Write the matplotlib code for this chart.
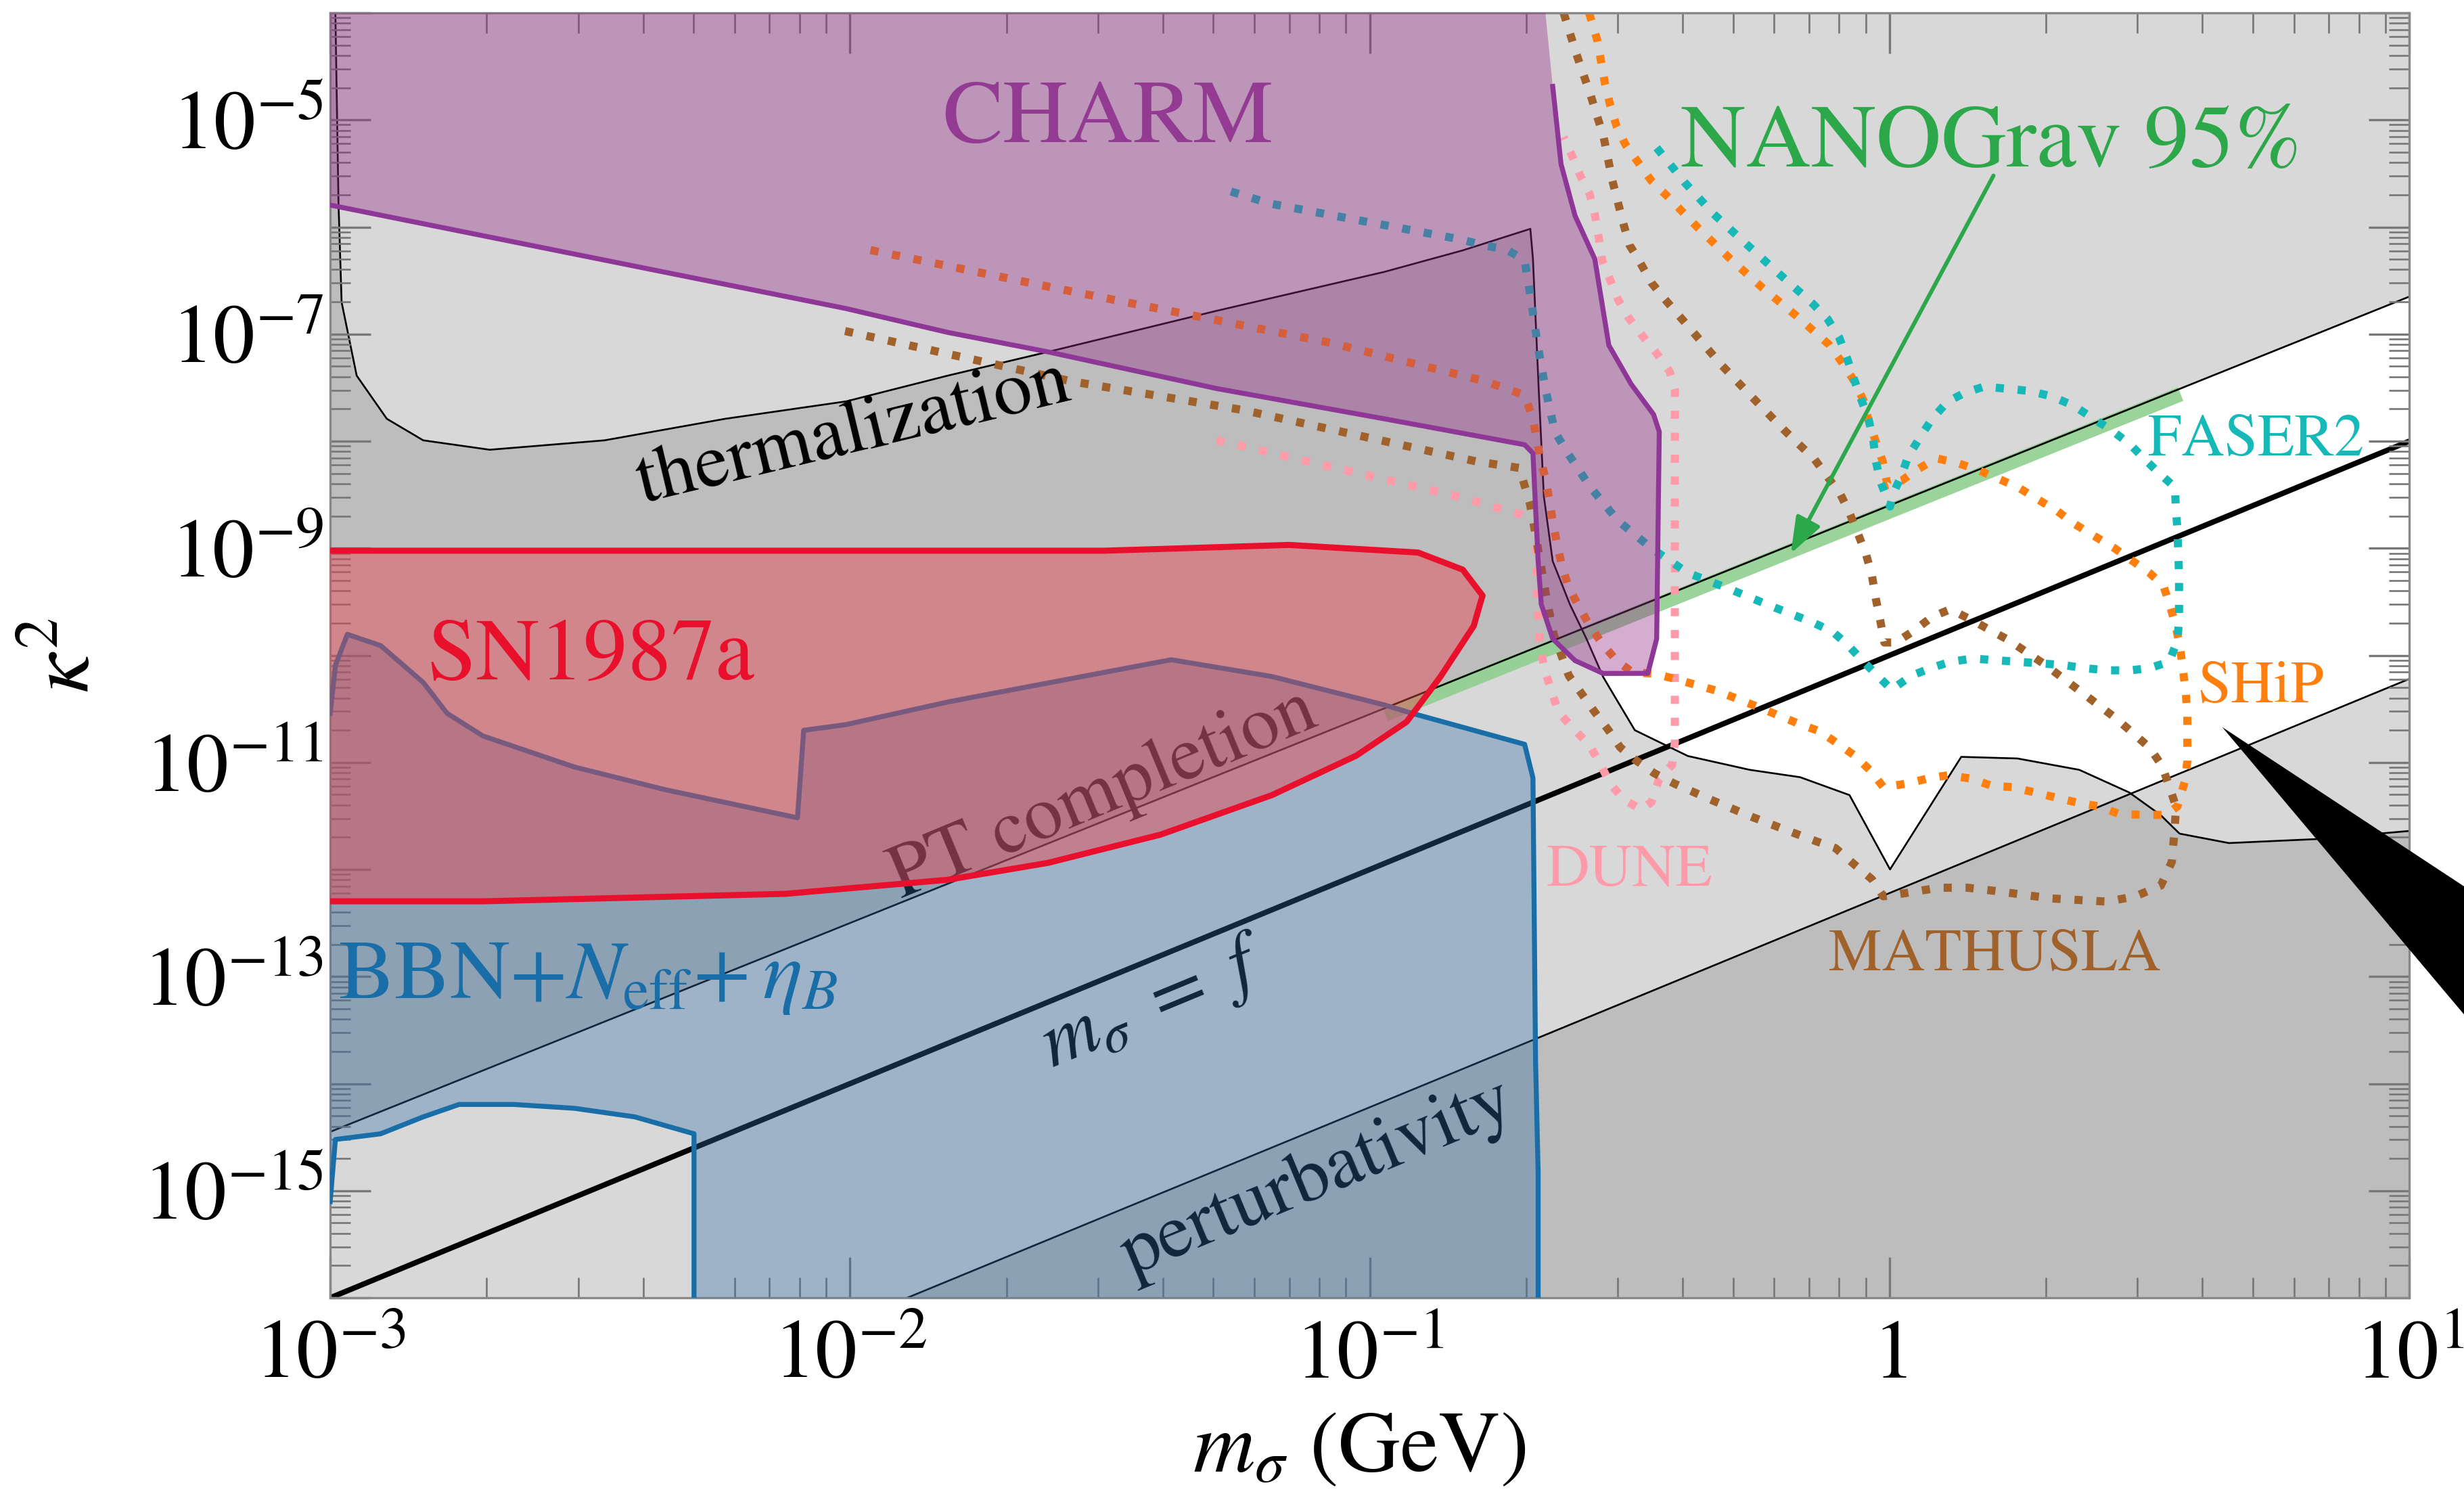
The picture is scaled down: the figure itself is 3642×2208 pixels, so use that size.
import numpy as np
import matplotlib
matplotlib.use('Agg')
import matplotlib.pyplot as plt
from matplotlib.ticker import FixedLocator, FixedFormatter, LogLocator, NullFormatter

plt.rcParams['font.family'] = 'STIXGeneral'
plt.rcParams['mathtext.fontset'] = 'stix'

# ---------------- data: log10(m_sigma / GeV), log10(kappa^2) ----------------
# straight boundaries
pt_lx, pt_ly = [-3.0, 1.0], [-14.45, -6.65]          # PT completion
mf_lx, mf_ly = [-3.0, 1.0], [-16.0, -8.0]            # m_sigma = f
pert_lx, pert_ly = [-3.0, 1.0], [-18.22, -10.22]     # perturbativity
nano_lx, nano_ly = [-0.97, 0.56], [-10.55, -7.56]    # NANOGrav 95% segment

# thermalization boundary
therm_lx = [-2.990, -2.984, -2.978, -2.949, -2.891, -2.821, -2.693, -2.472, -2.240, -2.007,
            -1.812, -1.619, -1.295, -0.972, -0.821, -0.691, -0.686, -0.675, -0.665, -0.648,
            -0.615, -0.583, -0.551, -0.532, -0.490, -0.388, -0.269, -0.172, -0.077, 0.001,
            0.138, 0.246, 0.365, 0.461, 0.521, 0.558, 0.653, 0.821, 1.0]
therm_ly = [-4.0, -5.773, -6.702, -7.388, -7.791, -7.992, -8.080, -7.992, -7.791, -7.628,
            -7.388, -7.166, -6.783, -6.419, -6.218, -6.017, -6.299, -7.505, -8.516, -9.120,
            -9.523, -9.846, -10.201, -10.357, -10.699, -10.940, -11.069, -11.138, -11.305, -11.999,
            -10.948, -10.963, -11.069, -11.280, -11.489, -11.665, -11.753, -11.716, -11.64]

# CHARM
charm_lx = [-3.0, -3.0, -2.007, -1.812, -1.619, -1.295, -0.972, -0.702, -0.686, -0.676,
            -0.670, -0.648, -0.605, -0.551, -0.465, -0.448, -0.443, -0.454, -0.497, -0.540,
            -0.567, -0.605, -0.632, -0.648, -0.662]
charm_ly = [-4.0, -5.795, -6.762, -6.984, -7.166, -7.508, -7.791, -8.033, -8.113, -9.120,
            -9.523, -9.846, -10.049, -10.169, -10.168, -9.846, -7.912, -7.750, -7.468, -7.104,
            -6.299, -5.895, -5.412, -4.687, -4.0]

# SN1987a
sn_lx = [-3.0, -1.943, -1.511, -1.155, -0.907, -0.821, -0.783, -0.800, -0.864, -0.929,
         -1.026, -1.188, -1.403, -1.619, -1.812, -2.124, -2.705, -3.0]
sn_ly = [-9.023, -9.023, -9.023, -8.969, -9.040, -9.200, -9.442, -9.726, -10.200, -10.621,
         -10.937, -11.305, -11.675, -11.938, -12.096, -12.227, -12.297, -12.297]

# BBN + N_eff + eta_B (upper edge, then the allowed pocket at low mass)
bbn_top_lx = [-3.0, -2.990, -2.967, -2.903, -2.821, -2.775, -2.706, -2.530, -2.356, -2.101,
              -2.089, -2.008, -1.812, -1.727, -1.382, -1.188, -0.972, -0.918, -0.702, -0.686,
              -0.681, -0.676, -0.676]
bbn_top_ly = [-10.542, -10.094, -9.804, -9.909, -10.253, -10.542, -10.753, -11.043, -11.254, -11.517,
              -10.700, -10.647, -10.436, -10.357, -10.041, -10.198, -10.463, -10.542, -10.831, -11.145,
              -13.783, -14.837, -16.0]
bbn_pocket_lx = [-2.30, -2.30, -2.414, -2.530, -2.647, -2.752, -2.821, -2.903, -2.990, -3.0]
bbn_pocket_ly = [-16.0, -14.468, -14.31, -14.23, -14.194, -14.194, -14.31, -14.468, -14.521, -15.101]

# projected sensitivities
dune_lx = [-1.295, -0.836, -0.712, -0.682, -0.679, -0.677, -0.672, -0.662, -0.637, -0.607,
           -0.577, -0.557, -0.537, -0.513, -0.478, -0.458, -0.443, -0.418, -0.413, -0.413,
           -0.423, -0.448, -0.478, -0.503, -0.523, -0.537, -0.553, -0.560, -0.567, -0.577,
           -0.595, -0.612, -0.627]
dune_ly = [-7.99, -8.51, -8.68, -8.81, -9.12, -9.54, -9.93, -10.16, -10.53, -10.69,
           -10.84, -11.01, -11.20, -11.34, -11.44, -11.37, -11.15, -11.02, -10.81, -7.52,
           -7.35, -7.18, -7.00, -6.84, -6.67, -6.50, -6.31, -6.08, -5.88, -5.69,
           -5.52, -5.32, -5.16]

mathusla_lx = [-0.627, -0.602, -0.575, -0.550, -0.533, -0.512, -0.500, -0.480, -0.458, -0.433,
               -0.378, -0.323, -0.264, -0.204, -0.144, -0.094, -0.077, -0.061, -0.045, -0.034,
               -0.026, -0.018, -0.010, 0.012, 0.047, 0.082, 0.117, 0.158, 0.230, 0.300,
               0.371, 0.436, 0.500, 0.524, 0.538, 0.551, 0.549, 0.543, 0.522, 0.473,
               0.419, 0.311, 0.203, 0.150, 0.095, 0.031, -0.012, -0.034, -0.066, -0.104,
               -0.139, -0.189, -0.264, -0.338, -0.413, -0.453, -0.488, -0.518, -0.542, -0.567,
               -0.592, -0.617, -0.647, -0.663, -0.684, -0.692, -0.712, -0.794, -1.243, -1.575,
               -2.011]
mathusla_ly = [-4.0, -4.39, -4.77, -5.16, -5.57, -5.97, -6.17, -6.33, -6.52, -6.67,
               -6.98, -7.29, -7.59, -7.89, -8.17, -8.50, -8.67, -8.86, -9.06, -9.25,
               -9.48, -9.67, -9.88, -9.88, -9.77, -9.64, -9.57, -9.67, -9.86, -10.09,
               -10.35, -10.59, -10.86, -11.03, -11.22, -11.41, -11.60, -11.93, -12.15, -12.25,
               -12.30, -12.27, -12.20, -12.17, -12.17, -12.22, -12.25, -12.09, -11.96, -11.80,
               -11.74, -11.65, -11.51, -11.36, -11.20, -11.10, -10.98, -10.86, -10.69, -10.53,
               -10.36, -10.19, -9.79, -9.38, -8.79, -8.58, -8.25, -8.19, -7.71, -7.44,
               -6.97]

ship_lx = [-0.578, -0.562, -0.547, -0.537, -0.525, -0.508, -0.483, -0.458, -0.428, -0.368,
           -0.308, -0.244, -0.179, -0.116, -0.092, -0.069, -0.050, -0.040, -0.026, -0.013,
           -0.004, 0.023, 0.052, 0.090, 0.128, 0.171, 0.209, 0.247, 0.284, 0.322,
           0.355, 0.392, 0.430, 0.468, 0.500, 0.527, 0.541, 0.551, 0.559, 0.565,
           0.570, 0.573, 0.573, 0.568, 0.554, 0.532, 0.489, 0.441, 0.403, 0.365,
           0.322, 0.279, 0.236, 0.198, 0.155, 0.112, 0.074, 0.031, -0.012, -0.034,
           -0.066, -0.104, -0.134, -0.174, -0.254, -0.333, -0.413, -0.453, -0.494, -0.525,
           -0.553, -0.577, -0.597, -0.617, -0.630, -0.639, -0.647, -0.654, -0.662, -0.672,
           -0.686, -0.702, -0.778, -1.077, -1.326, -1.575, -1.986]
ship_ly = [-4.0, -4.26, -4.67, -4.87, -5.06, -5.23, -5.40, -5.57, -5.71, -6.01,
           -6.29, -6.57, -6.83, -7.10, -7.26, -7.43, -7.62, -7.81, -8.01, -8.19,
           -8.41, -8.37, -8.27, -8.16, -8.20, -8.27, -8.35, -8.43, -8.54, -8.65,
           -8.77, -8.88, -8.99, -9.12, -9.23, -9.35, -9.56, -9.73, -9.93, -10.15,
           -10.35, -10.57, -10.99, -11.18, -11.41, -11.49, -11.49, -11.48, -11.41, -11.38,
           -11.33, -11.28, -11.23, -11.22, -11.15, -11.12, -11.15, -11.20, -11.23, -11.09,
           -10.94, -10.81, -10.71, -10.64, -10.48, -10.33, -10.22, -10.17, -10.16, -10.05,
           -9.89, -9.72, -9.55, -9.37, -9.17, -8.97, -8.78, -8.56, -8.35, -8.16,
           -7.79, -7.57, -7.44, -7.08, -6.84, -6.60, -6.19]

faser_lx = [-0.448, -0.393, -0.338, -0.273, -0.214, -0.149, -0.119, -0.097, -0.082, -0.069,
            -0.056, -0.040, -0.031, -0.026, -0.018, 0.001, 0.007, 0.023, 0.036, 0.058,
            0.082, 0.112, 0.144, 0.182, 0.225, 0.268, 0.311, 0.355, 0.392, 0.425,
            0.463, 0.489, 0.519, 0.549, 0.551, 0.554, 0.557, 0.557, 0.554, 0.538,
            0.500, 0.463, 0.419, 0.376, 0.333, 0.247, 0.160, 0.117, 0.079, 0.042,
            0.004, -0.023, -0.050, -0.079, -0.109, -0.149, -0.228, -0.308, -0.388, -0.458,
            -0.523, -0.577, -0.622, -0.644, -0.662, -0.677, -0.689, -0.702, -0.737, -0.782,
            -0.821, -1.193, -1.279]
faser_ly = [-5.26, -5.59, -5.88, -6.17, -6.43, -6.71, -6.86, -7.03, -7.22, -7.41,
            -7.59, -7.80, -8.00, -8.19, -8.37, -8.61, -8.49, -8.32, -8.14, -7.97,
            -7.79, -7.63, -7.55, -7.49, -7.51, -7.53, -7.58, -7.67, -7.79, -7.89,
            -8.03, -8.16, -8.30, -8.43, -8.64, -8.83, -9.25, -9.67, -9.86, -10.06,
            -10.12, -10.14, -10.14, -10.12, -10.09, -10.06, -10.03, -10.06, -10.12, -10.19,
            -10.32, -10.19, -10.06, -9.91, -9.78, -9.69, -9.54, -9.38, -9.23, -9.00,
            -8.74, -8.42, -8.09, -7.91, -7.51, -7.10, -6.70, -6.31, -6.21, -6.17,
            -6.12, -5.78, -5.65]

# black pointer wedge (part of the surrounding figure)
wedge_lx, wedge_ly = [0.640, 1.2, 1.2], [-10.67, -12.46, -13.90]

xtick_exp = [-3, -2, -1, 0, 1]
xtick_labels = [r'$10^{-3}$', r'$10^{-2}$', r'$10^{-1}$', r'$1$', r'$10^{1}$']
ytick_exp = list(range(-16, -3))
ytick_labels = [r'$10^{%d}$' % e if e % 2 else '' for e in ytick_exp]


def pts(lx, ly):
    return 10.0 ** np.asarray(lx), 10.0 ** np.asarray(ly)


fig = plt.figure(figsize=(3642 / 240, 2208 / 240), dpi=240)
ax = fig.add_axes([0.1340, 0.1313, 0.8438, 0.8601])
ax.set_xscale('log')
ax.set_yscale('log')
ax.set_xlim(1e-3, 1e1)
ax.set_ylim(1e-16, 1e-4)

# gray excluded regions (overlaps become darker)
gray = dict(color='#878787', alpha=0.32, lw=0, zorder=1)
x, y = pts(pt_lx, pt_ly)
ax.fill_between(x, y, 1e-4, **gray)
ax.plot(x, y, color='k', lw=0.8, zorder=1.5)
x, y = pts(pert_lx, pert_ly)
ax.fill_between(x, 1e-20, y, **gray)
ax.plot(x, y, color='k', lw=0.8, zorder=1.5)
tx, ty = pts(therm_lx, therm_ly)
ax.fill(np.r_[tx, 10, 1e-3, 1e-3], np.r_[ty, 1e-16, 1e-16, 1e-4], **gray)
ax.plot(tx, ty, color='k', lw=0.8, zorder=1.5)

x, y = pts(mf_lx, mf_ly)
ax.plot(x, y, color='k', lw=2.4, zorder=1.5)

x, y = pts(nano_lx, nano_ly)
ax.plot(x, y, color='#8fd08f', lw=6.5, alpha=0.9, solid_capstyle='butt', zorder=1.45)

# texts that sit underneath the coloured fills
ax.text(10 ** -1.511, 10 ** -11.31, 'PT completion', fontsize=34, rotation=22.5,
        rotation_mode='anchor', ha='center', va='center', color='black', zorder=1.7)
ax.text(10 ** -1.414, 10 ** -13.26, r'$m_\sigma\ =\ f$', fontsize=35, rotation=22.5,
        rotation_mode='anchor', ha='center', va='center', color='black', zorder=1.7)
ax.text(10 ** -1.101, 10 ** -14.89, 'perturbativity', fontsize=34, rotation=22.5,
        rotation_mode='anchor', ha='center', va='center', color='black', zorder=1.7)

# projected sensitivities (dotted)
dot = dict(lw=3.6, ls=(0, (1, 1.7)), zorder=2)
ax.plot(*pts(dune_lx, dune_ly), color='#ff9aa8', **dot)
ax.plot(*pts(mathusla_lx, mathusla_ly), color='#a0612b', **dot)
ax.plot(*pts(ship_lx, ship_ly), color='#ff7f0e', **dot)
ax.plot(*pts(faser_lx, faser_ly), color='#17b8b8', **dot)

# BBN
bx, by = pts(bbn_top_lx + bbn_pocket_lx, bbn_top_ly + bbn_pocket_ly)
ax.fill(bx, by, color='#346ea8', alpha=0.35, lw=0, zorder=3)
ax.plot(*pts(bbn_top_lx, bbn_top_ly), color='#1a6ea8', lw=2.2, zorder=3.05)
ax.plot(*pts(bbn_pocket_lx, bbn_pocket_ly), color='#1a6ea8', lw=2.2, zorder=3.05)

# SN1987a
sx, sy = pts(sn_lx, sn_ly)
ax.fill(sx, sy, color='#eb434e', alpha=0.45, lw=0, zorder=3.1)
ax.plot(sx, sy, color='#e8102d', lw=2.7, zorder=3.2)

# CHARM
cx, cy = pts(charm_lx, charm_ly)
ax.fill(cx, cy, color='#932b86', alpha=0.385, lw=0, zorder=3.3)
ax.plot(cx[1:-1], cy[1:-1], color='#8e3796', lw=2.2, zorder=3.4)

# labels
lab = dict(zorder=6)
ax.text(10 ** -1.503, 10 ** -5.21, 'CHARM', fontsize=40, color='#933a93',
        ha='center', va='baseline', **lab)
ax.text(10 ** 0.196, 10 ** -5.435, 'NANOGrav 95%', fontsize=40, color='#2ca84a',
        ha='center', va='baseline', **lab)
ax.text(10 ** -2.498, 10 ** -10.22, 'SN1987a', fontsize=39, color='#e8102d',
        ha='center', va='baseline', **lab)
ax.text(10 ** -2.985, 10 ** -13.20, r'BBN$+N_{\rm eff}\!+\eta_B$', fontsize=37, color='#1a6ea8',
        ha='left', va='baseline', **lab)
ax.text(10 ** -1.993, 10 ** -7.93, 'thermalization', fontsize=34, rotation=13.5,
        rotation_mode='anchor', ha='center', va='center', color='black', **lab)
ax.text(10 ** -0.500, 10 ** -12.15, 'DUNE', fontsize=26.5, color='#ff9aa8',
        ha='center', va='baseline', **lab)
ax.text(10 ** 0.202, 10 ** -12.94, 'MATHUSLA', fontsize=26.5, color='#a0612b',
        ha='center', va='baseline', **lab)
ax.text(10 ** 0.593, 10 ** -10.44, 'SHiP', fontsize=26.5, color='#ff7f0e',
        ha='left', va='baseline', **lab)
ax.text(10 ** 0.498, 10 ** -8.133, 'FASER2', fontsize=26.5, color='#17b8b8',
        ha='left', va='baseline', **lab)

ax.annotate('', xy=(10 ** -0.19, 10 ** -9.05), xytext=(10 ** 0.20, 10 ** -5.52),
            arrowprops=dict(arrowstyle='-|>,head_length=0.68,head_width=0.25',
                            color='#2ca84a', lw=1.8, shrinkA=0, shrinkB=0,
                            mutation_scale=20), zorder=6)

wx, wy = pts(wedge_lx, wedge_ly)
ax.fill(wx, wy, color='black', lw=0, clip_on=False, zorder=10)

# axes, ticks
ax.xaxis.set_major_locator(FixedLocator([10.0 ** e for e in xtick_exp]))
ax.xaxis.set_major_formatter(FixedFormatter(xtick_labels))
ax.yaxis.set_major_locator(FixedLocator([10.0 ** e for e in ytick_exp]))
ax.yaxis.set_major_formatter(FixedFormatter(ytick_labels))
for axis in (ax.xaxis, ax.yaxis):
    axis.set_minor_locator(LogLocator(10, subs=np.arange(2, 10), numticks=60))
    axis.set_minor_formatter(NullFormatter())
ax.tick_params(which='both', direction='in', top=True, right=True, color='#777777',
               labelsize=37)
ax.tick_params(which='major', length=18, width=1.0)
ax.tick_params(which='minor', length=9, width=0.8)
ax.tick_params(axis='x', pad=10)
ax.tick_params(axis='y', pad=3)
for s in ax.spines.values():
    s.set_color('#888888')
    s.set_linewidth(1.0)

ax.set_xlabel(r'$m_\sigma$ (GeV)', fontsize=38, va='center')
ax.xaxis.set_label_coords(0.495, -0.119)
ax.set_ylabel(r'$\kappa^2$', fontsize=39, va='center')
ax.yaxis.set_label_coords(-0.126, 0.5)

fig.savefig('out.png', dpi=240)
